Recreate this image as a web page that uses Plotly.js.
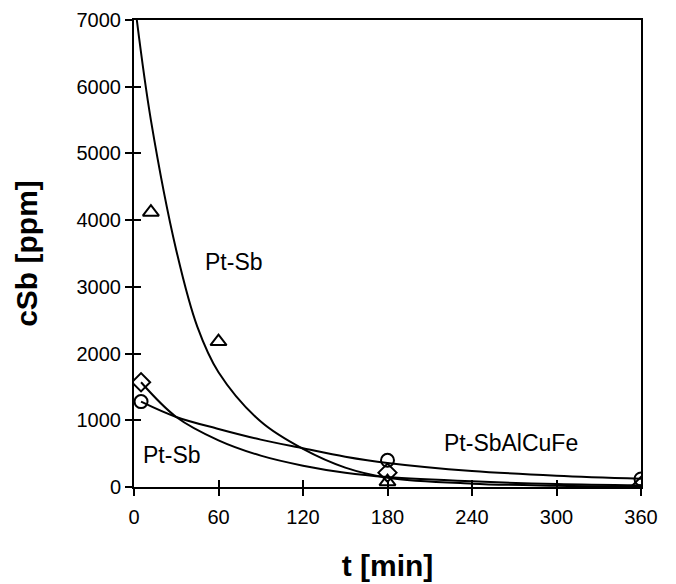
<!DOCTYPE html>
<html>
<head>
<meta charset="utf-8">
<script src="https://cdn.plot.ly/plotly-3.0.1.min.js"></script>
<style>html,body{margin:0;padding:0;background:#fff;}#chart{width:676px;height:584px;}</style>
</head>
<body>
<div id="chart"></div>
<script>
// Measured points
const triT = [12, 60, 180];
const triC = [4120, 2180, 80];
const diaT = [5, 180, 360];
const diaC = [1570, 215, 15];
const cirT = [5, 180, 360];
const cirC = [1280, 400, 120];

// Fitted curves
const fitAT = [2, 12, 30, 45, 60, 90, 120, 150, 180, 240, 300, 360];
const fitAC = [7000, 5500, 3550, 2400, 1720, 980, 570, 290, 140, 50, 20, 8];
const fitBT = [5, 30, 60, 90, 120, 150, 180, 240, 300, 360];
const fitBC = [1570, 1050, 700, 470, 320, 215, 150, 85, 45, 25];
const fitCT = [5, 30, 60, 90, 120, 150, 180, 240, 300, 360];
const fitCC = [1280, 1050, 870, 710, 580, 455, 360, 240, 170, 125];

const xTicks = [0, 60, 120, 180, 240, 300, 360];
const yTicks = [0, 1000, 2000, 3000, 4000, 5000, 6000, 7000];

const labels = [
  {text: 'Pt-Sb', t: 71, c: 3370},
  {text: 'Pt-Sb', t: 27, c: 480},
  {text: 'Pt-SbAlCuFe', t: 268, c: 665}
];

const lineStyle = {color: '#000', width: 2, shape: 'spline', smoothing: 1};
const traces = [
  {x: fitAT, y: fitAC, mode: 'lines', line: lineStyle, hoverinfo: 'skip'},
  {x: fitBT, y: fitBC, mode: 'lines', line: lineStyle, hoverinfo: 'skip'},
  {x: fitCT, y: fitCC, mode: 'lines', line: lineStyle, hoverinfo: 'skip'},
  {x: triT, y: triC, mode: 'markers', marker: {symbol: 'triangle-up-open', size: 14, color: '#000', line: {width: 2, color: '#000'}}},
  {x: diaT, y: diaC, mode: 'markers', marker: {symbol: 'diamond-open', size: 14, color: '#000', line: {width: 2, color: '#000'}}},
  {x: cirT, y: cirC, mode: 'markers', marker: {symbol: 'circle-open', size: 13, color: '#000', line: {width: 2, color: '#000'}}},
  {x: [0], y: [0], xaxis: 'x2', yaxis: 'y2', mode: 'markers', marker: {opacity: 0}, hoverinfo: 'skip'}
];

const font = {family: 'Liberation Sans, Arial, sans-serif', color: '#000'};
const layout = {
  width: 676, height: 584,
  margin: {l: 134, r: 35, t: 20, b: 97},
  paper_bgcolor: '#fff', plot_bgcolor: '#fff',
  showlegend: false,
  font: Object.assign({size: 20}, font),
  xaxis: {
    range: [0, 360], tickmode: 'array', tickvals: xTicks, ticktext: xTicks.map(String),
    ticks: 'outside', ticklen: 7, tickwidth: 2, tickcolor: '#000', ticklabelstandoff: 4,
    showline: true, linecolor: '#000', linewidth: 2, mirror: true,
    showgrid: false, zeroline: false,
    tickfont: Object.assign({size: 20}, font),
    title: {text: '<b>t [min]</b>', font: Object.assign({size: 30}, font), standoff: 28}
  },
  yaxis: {
    range: [0, 7000], tickmode: 'array', tickvals: yTicks, ticktext: yTicks.map(String),
    ticks: 'outside', ticklen: 7, tickwidth: 2, tickcolor: '#000',
    showline: true, linecolor: '#000', linewidth: 2, mirror: true,
    showgrid: false, zeroline: false,
    tickfont: Object.assign({size: 20}, font),
    title: {text: '<b>cSb [ppm]</b>', font: Object.assign({size: 30}, font), standoff: 30}
  },
  xaxis2: {
    overlaying: 'x', range: [0, 360], tickmode: 'array', tickvals: xTicks,
    ticks: 'inside', ticklen: 7, tickwidth: 2, tickcolor: '#000',
    showticklabels: false, showline: false, showgrid: false, zeroline: false, side: 'bottom'
  },
  yaxis2: {
    overlaying: 'y', range: [0, 7000], tickmode: 'array', tickvals: yTicks,
    ticks: 'inside', ticklen: 7, tickwidth: 2, tickcolor: '#000',
    showticklabels: false, showline: false, showgrid: false, zeroline: false, side: 'left'
  },
  annotations: labels.map(l => ({
    x: l.t, y: l.c, xref: 'x', yref: 'y', text: l.text, showarrow: false,
    font: Object.assign({size: 23}, font), xanchor: 'center', yanchor: 'middle'
  }))
};

Plotly.newPlot('chart', traces, layout, {displayModeBar: false, staticPlot: true});
</script>
</body>
</html>
